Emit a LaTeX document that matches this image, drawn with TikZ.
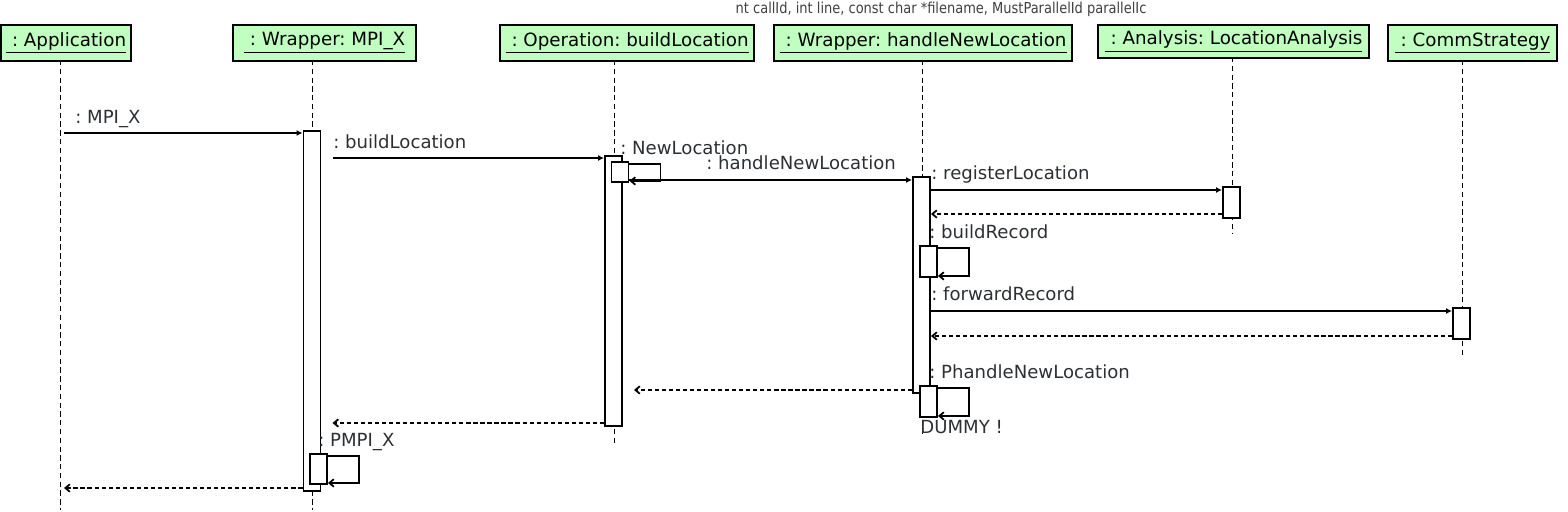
\documentclass[tikz,border=0pt]{standalone}
\usepackage{fontspec}
\setmainfont{DejaVu Sans}
\newfontfamily\sigfont[FakeStretch=0.86]{DejaVu Sans}
\usepackage{tikz}
\usetikzlibrary{calc,arrows.meta}
\frenchspacing
\definecolor{objfill}{RGB}{192,255,192}
\definecolor{msgtext}{RGB}{44,48,52}
\newcommand{\hdrtop}{24}
\newcommand{\loopw}{31}
\tikzset{
  objbox/.style   = {draw=black, fill=objfill, line width=1.3pt, inner sep=0pt,
                     anchor=north west, font=\fontsize{10.4}{12}\selectfont},
  lifeline/.style = {line width=0.5pt, dash pattern=on 3pt off 2pt},
  actbox/.style   = {draw=black, fill=white, line width=1.1pt, inner sep=0pt,
                     anchor=north, minimum width=0.34cm},
  call/.style     = {-{Latex[length=1.2mm,width=1.2mm]}, line width=1pt},
  reply/.style    = {-{Straight Barb[length=0.9mm,width=1.5mm]}, line width=1pt,
                     dash pattern=on 2.4pt off 1.6pt},
  selfcall/.style = {-{Straight Barb[length=0.9mm,width=1.5mm]}, line width=1pt},
  msglabel/.style = {anchor=base west, inner sep=0pt, text=msgtext,
                     font=\fontsize{10.3}{12}\selectfont}
}

\begin{document}
\begin{tikzpicture}[x=0.02cm, y=-0.02cm]
  \useasboundingbox (0,0) rectangle (1568,511);
  % clipped signature text above the diagram
  \node[text=black!75, font=\sigfont\fontsize{8.6}{9}\selectfont] (sig) at (941,9)
    {nt callId, int line, const char *filename, MustParallelId parallelIc};
  % object heads and lifelines: name/left/width/height/text/lifeline x/end
  \foreach \n/\l/\w/\h/\t/\lx/\ly in {
    app/0/130/36/{: Application}/60/510,
    mpi/232/183/36/{: Wrapper: MPI\_X}/312/510,
    op/499/254/36/{: Operation: buildLocation}/614/445,
    hnl/773/298/36/{: Wrapper: handleNewLocation}/922/437,
    ana/1097/271/33/{: Analysis: LocationAnalysis}/1232/233,
    cs/1387/169/36/{: CommStrategy}/1462/357
  }{
    \node[objbox, minimum width=\w*0.02cm, minimum height=\h*0.02cm] (\n) at (\l,\hdrtop) {\underline{~\t}};
    \coordinate (\n-l) at (\lx,\hdrtop+\h);
    \draw[lifeline] (\n-l) -- (\lx,\ly);
  }
  % activation bars: name/x/top/height (outer ones first)
  \foreach \n/\x/\yt/\h in {
    mpiA/312/130/360, opA/613.5/155/270, hnlA/921.5/176/216,
    anaA/1231.5/186/31, csA/1461.5/307/31,
    mpiB/318.5/453/30, opB/620/161/20, hnlB/928.5/245/31, hnlC/928.5/385/31
  }{
    \node[actbox, minimum height=\h*0.02cm] (\n) at (\x,\yt) {};
  }
  % self calls
  \foreach \n in {opB,hnlB,hnlC,mpiB} {
    \draw[selfcall] ($(\n.north east)+(0,3)$) -- ++(\loopw,0) |- ($(\n.south east)+(0,-2)$);
  }
  % calls
  \draw[call] ($(app-l |- 0,133)+(4,0)$) -- (mpiA.west |- 0,133);
  \draw[call] ($(mpiA.east |- 0,158)+(12,0)$) -- (opA.west |- 0,158);
  \draw[call] (opB.east |- 0,180) -- (hnlA.west |- 0,180);
  \draw[call] (hnlA.east |- 0,190) -- (anaA.west |- 0,190);
  \draw[call] (hnlA.east |- 0,311) -- (csA.west |- 0,311);
  % replies
  \draw[reply] (anaA.west |- 0,214) -- (hnlA.east |- 0,214);
  \draw[reply] (csA.west |- 0,336) -- (hnlA.east |- 0,336);
  \draw[reply] (hnlA.west |- 0,390) -- ($(opA.east |- 0,390)+(11,0)$);
  \draw[reply] (opA.west |- 0,423) -- ($(mpiA.east |- 0,423)+(11,0)$);
  \draw[reply] (mpiA.west |- 0,488) -- ($(app-l |- 0,488)+(4,0)$);
  % message labels
  \node[msglabel] (lmpix)  at (75,123)  {: MPI\_X};
  \node[msglabel] (lbuild) at (333,148) {: buildLocation};
  \node[msglabel] (lnew)   at (620,154) {: NewLocation};
  \node[msglabel] (lhnl)   at (706,169) {: handleNewLocation};
  \node[msglabel] (lreg)   at (931,179) {: registerLocation};
  \node[msglabel] (lrec)   at (929,238) {: buildRecord};
  \node[msglabel] (lfwd)   at (931,300) {: forwardRecord};
  \node[msglabel] (lphnl)  at (929,378) {: PhandleNewLocation};
  \node[msglabel] (lpmpi)  at (318,446) {: PMPI\_X};
  \node[msglabel] (ldummy) at (920,433) {DUMMY !};
\end{tikzpicture}
\end{document}
